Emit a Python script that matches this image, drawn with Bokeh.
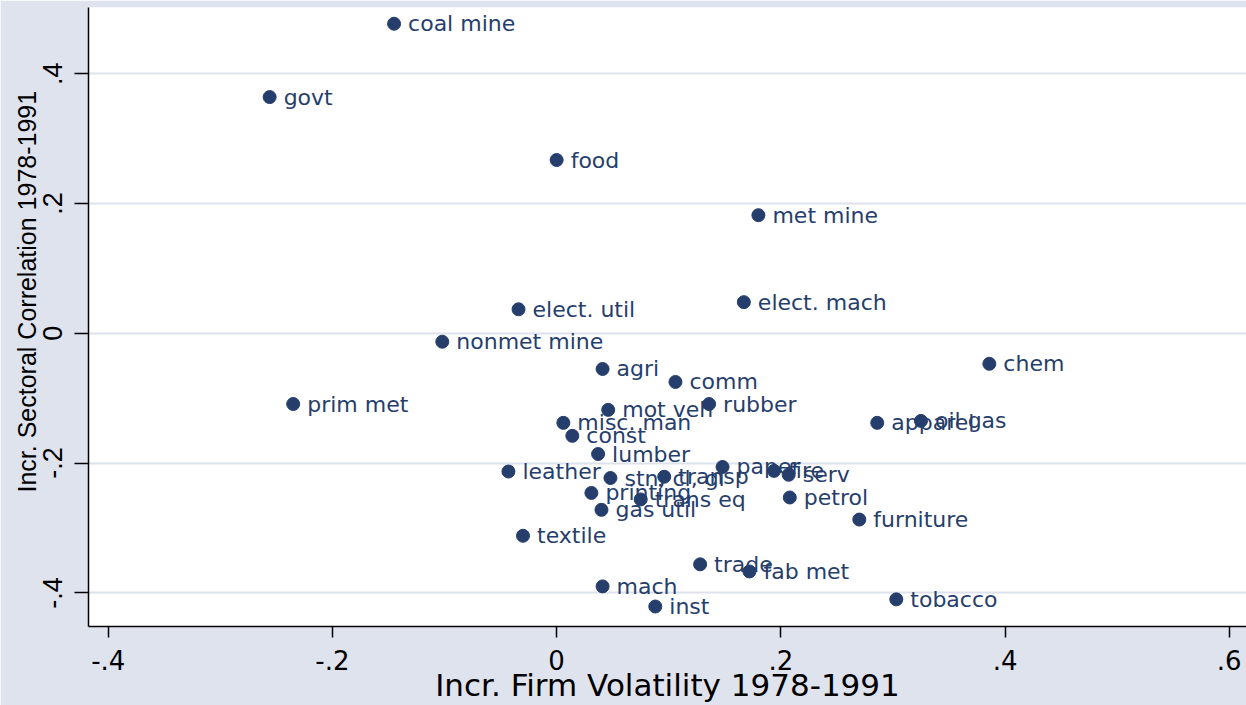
from bokeh.plotting import figure
from bokeh.models import ColumnDataSource, FixedTicker, Range1d, Title
from bokeh.core.properties import value
from bokeh.embed import file_html
from bokeh.resources import INLINE

# ---- data ----
industries = ["coal mine", "govt", "food", "met mine", "elect. util", "elect. mach",
              "nonmet mine", "chem", "agri", "comm", "prim met", "rubber", "mot veh",
              "misc. man", "oil gas", "apparel", "const", "lumber", "leather",
              "stn, cl, gl", "transp", "paper", "fire", "serv", "printing", "trans eq",
              "petrol", "gas util", "furniture", "textile", "trade", "fab met", "mach",
              "inst", "tobacco"]
firm_volatility = [-0.145, -0.256, 0.000, 0.180, -0.034, 0.167,
                   -0.102, 0.386, 0.041, 0.106, -0.235, 0.136, 0.046,
                   0.006, 0.325, 0.286, 0.014, 0.037, -0.043,
                   0.048, 0.096, 0.148, 0.194, 0.207, 0.031, 0.075,
                   0.208, 0.040, 0.270, -0.030, 0.128, 0.172, 0.041,
                   0.088, 0.303]
sectoral_corr = [0.477, 0.364, 0.267, 0.182, 0.037, 0.048,
                 -0.013, -0.047, -0.055, -0.075, -0.109, -0.109, -0.118,
                 -0.138, -0.135, -0.138, -0.158, -0.186, -0.213,
                 -0.223, -0.221, -0.206, -0.212, -0.218, -0.246, -0.256,
                 -0.253, -0.272, -0.287, -0.312, -0.356, -0.367, -0.390,
                 -0.421, -0.410]

x_ticks = [-0.4, -0.2, 0.0, 0.2, 0.4, 0.6]
x_tick_labels = ["-.4", "-.2", "0", ".2", ".4", ".6"]
y_ticks = [-0.4, -0.2, 0.0, 0.2, 0.4]
y_tick_labels = ["-.4", "-.2", "0", ".2", ".4"]

x_title = "Incr. Firm Volatility 1978-1991"
y_title = "Incr. Sectoral Correlation 1978-1991"

NAVY = "#263e6c"
BG = "#dfe3ee"

src = ColumnDataSource(dict(x=firm_volatility, y=sectoral_corr, name=industries))

X0, X1 = -0.4176, 0.6154
Y0, Y1 = -0.4518, 0.502

p = figure(width=1246, height=705, output_backend="svg", toolbar_location=None,
           x_range=Range1d(X0, X1), y_range=Range1d(Y0, Y1),
           min_border_left=88, min_border_right=0, min_border_top=7, min_border_bottom=78)

p.background_fill_color = "white"
p.border_fill_color = BG
p.outline_line_color = None

p.scatter("x", "y", source=src, size=13, color=NAVY, line_color=NAVY)
p.text("x", "y", text="name", source=src, x_offset=14, text_baseline="middle",
       text_font=value("DejaVu Sans"), text_font_size="22px", text_color=NAVY)

# grid
p.xgrid.visible = False
p.ygrid.grid_line_color = "#dde2ee"
p.ygrid.grid_line_width = 2
p.ygrid.ticker = FixedTicker(ticks=y_ticks)

# x axis
xa = p.xaxis[0]
xa.ticker = FixedTicker(ticks=x_ticks)
xa.major_label_overrides = {t: l for t, l in zip(x_ticks, x_tick_labels)}
xa.axis_label = x_title
xa.axis_label_text_font = "DejaVu Sans"
xa.axis_label_text_font_size = "31px"
xa.axis_label_text_font_style = "normal"
xa.axis_label_text_color = "black"
xa.axis_label_standoff = -6
xa.major_label_text_font = "DejaVu Sans"
xa.major_label_text_font_size = "26px"
xa.major_label_text_color = "black"
xa.major_label_standoff = 12
xa.major_tick_out = 11
xa.major_tick_in = 0
xa.minor_tick_out = 0
xa.minor_tick_in = 0
xa.axis_line_color = "black"
xa.axis_line_width = 1.5
xa.major_tick_line_color = "black"
xa.major_tick_line_width = 1.5

# y axis
ya = p.yaxis[0]
ya.ticker = FixedTicker(ticks=y_ticks)
ya.major_label_overrides = {t: l for t, l in zip(y_ticks, y_tick_labels)}
ya.major_label_orientation = "vertical"
ya.major_label_text_font = "Liberation Sans"
ya.major_label_text_font_size = "27px"
ya.major_label_text_color = "black"
ya.major_label_standoff = 12
ya.major_tick_out = 14
ya.major_tick_in = 0
ya.minor_tick_out = 0
ya.minor_tick_in = 0
ya.axis_line_color = "black"
ya.axis_line_width = 1.5
ya.major_tick_line_color = "black"
ya.major_tick_line_width = 1.5

# y axis title, as a left-side title so it can sit slightly above the frame centre
p.add_layout(Title(text=y_title, align="left", offset=134, standoff=0,
                   text_font="Liberation Sans", text_font_size="25px",
                   text_font_style="normal", text_color="black"), "left")

open("out.html", "w").write(file_html(p, INLINE))
